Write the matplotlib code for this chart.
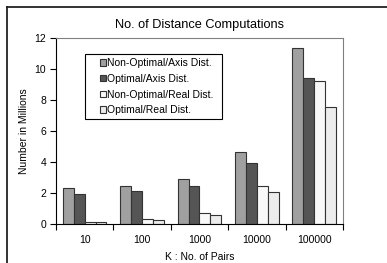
import matplotlib
matplotlib.use("Agg")
import matplotlib.pyplot as plt
import numpy as np
from matplotlib.lines import Line2D
from matplotlib.patches import Rectangle

plt.rcParams['font.family'] = ['Liberation Sans', 'DejaVu Sans']

pairs = ["10", "100", "1000", "10000", "100000"]
series = ["Non-Optimal/Axis Dist.", "Optimal/Axis Dist.",
          "Non-Optimal/Real Dist.", "Optimal/Real Dist."]
nonopt_axis = [2.3, 2.45, 2.9, 4.65, 11.35]
opt_axis = [1.95, 2.1, 2.45, 3.92, 9.45]
nonopt_real = [0.15, 0.3, 0.72, 2.48, 9.22]
opt_real = [0.12, 0.25, 0.6, 2.05, 7.58]
colors = ["#a0a0a0", "#555555", "#f8f8f8", "#ececec"]

fig = plt.figure(figsize=(3.87, 2.63), dpi=100)
ax = fig.add_axes([0.1447, 0.1483, 0.7413, 0.7072])

x = np.arange(len(pairs))
w = 0.19
for i, vals in enumerate([nonopt_axis, opt_axis, nonopt_real, opt_real]):
    ax.bar(x + (i - 1.5) * w, vals, w, color=colors[i], edgecolor="#333333",
           linewidth=0.8, label=series[i])

ax.set_xlim(-0.5, 4.5)
ax.set_ylim(0, 12)
ax.set_yticks(range(0, 13, 2))
ax.set_xticks(x)
ax.set_xticklabels(pairs)
ax.set_xticks(np.arange(-0.5, 5, 1), minor=True)
ax.tick_params(axis='x', which='major', length=0, labelsize=7.5, pad=8)
ax.tick_params(axis='x', which='minor', length=4, width=0.8, direction='out')
ax.tick_params(axis='y', length=4, width=0.8, labelsize=7.5, pad=3)
for s in ['top', 'right']:
    ax.spines[s].set_color('#808080')
for s in ['left', 'bottom']:
    ax.spines[s].set_color('black')
    ax.spines[s].set_linewidth(0.8)

ax.set_title("No. of Distance Computations", fontsize=9.2, pad=7)
ax.set_ylabel("Number in Millions", fontsize=7.5, labelpad=4)
ax.set_xlabel("K : No. of Pairs", fontsize=7.5, labelpad=5)

# legend box drawn separately so its padding matches the original
ax.add_patch(Rectangle((0.101, 0.565), 0.477, 0.349, transform=ax.transAxes,
                       facecolor='white', edgecolor='black', lw=0.8, zorder=4))
leg = ax.legend(loc='upper left', bbox_to_anchor=(0.152, 0.893), fontsize=7.5,
                handlelength=0.6, handleheight=0.6, handletextpad=0.1,
                labelspacing=0.56, borderpad=0, frameon=False,
                borderaxespad=0)
leg.set_zorder(5)

# outer frame (top and left only)
fig.add_artist(Line2D([7 / 387, 1], [1 - 6.5 / 263, 1 - 6.5 / 263],
                      transform=fig.transFigure, color='#222222', lw=1.3))
fig.add_artist(Line2D([7 / 387, 7 / 387], [0, 1 - 6.5 / 263],
                      transform=fig.transFigure, color='#222222', lw=1.3))

fig.savefig("out.png", dpi=100)
